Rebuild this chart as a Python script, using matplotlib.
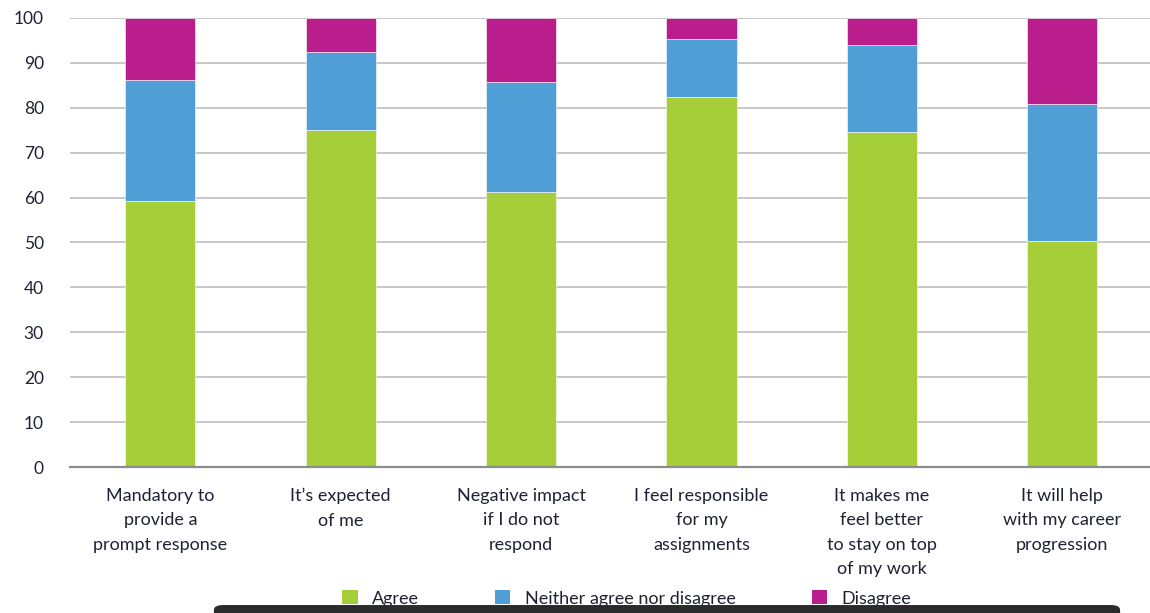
import matplotlib.pyplot as plt
import numpy as np
from matplotlib.patches import FancyBboxPatch, Patch

plt.rcParams['font.family'] = ['Lato', 'DejaVu Sans']

categories = ["Mandatory to\nprovide a\nprompt response",
              "It\u2019s expected\nof me",
              "Negative impact\nif I do not\nrespond",
              "I feel responsible\nfor my\nassignments",
              "It makes me\nfeel better\nto stay on top\nof my work",
              "It will help\nwith my career\nprogression"]
agree = [59.3, 75.1, 61.3, 82.4, 74.6, 50.4]
neither = [26.9, 17.3, 24.3, 12.9, 19.4, 30.5]
disagree = [13.8, 7.6, 14.4, 4.7, 6.0, 19.1]
series_names = ["Agree", "Neither agree nor disagree", "Disagree"]
colors = ["#a6ce39", "#4f9fd6", "#b91e8c"]
text_color = "#1f2233"

fig = plt.figure(figsize=(11.5, 6.13), dpi=100)
ax = fig.add_axes([0.061, 0.238, 0.941, 0.733])

x = np.arange(len(categories))
bottom = np.zeros(len(categories))
for vals, col in zip([agree, neither, disagree], colors):
    ax.bar(x, vals, width=0.39, bottom=bottom, color=col, zorder=3,
           edgecolor='white', linewidth=0.4)
    bottom += np.array(vals)

ax.set_xlim(-0.5, 5.5)
ax.set_ylim(0, 100)
ax.set_yticks(range(0, 101, 10))
ax.yaxis.grid(True, color='#c8c8c8', linewidth=1.4, zorder=0)
ax.set_axisbelow(True)
for s in ['left', 'right', 'top']:
    ax.spines[s].set_visible(False)
ax.spines['bottom'].set_color('#8c8c8c')
ax.spines['bottom'].set_linewidth(1.6)
ax.spines['bottom'].set_zorder(4)
ax.tick_params(axis='y', length=0, pad=19, labelsize=12.5, labelcolor=text_color)
ax.tick_params(axis='x', length=0, pad=15)
ax.set_xticks(x)
ax.set_xticklabels(categories, fontsize=13, color=text_color,
                   linespacing=1.65, va='top')

handles = [Patch(facecolor=c, edgecolor='none') for c in colors]
fig.legend(handles, series_names, loc='center', ncol=3,
           bbox_to_anchor=(0.545, 0.024), frameon=False, fontsize=13,
           labelcolor=text_color, handlelength=0.85, handleheight=0.85,
           handletextpad=0.8, columnspacing=4.2)

bar = FancyBboxPatch((0.186, -0.03), 0.788, 0.043,
                     boxstyle="round,pad=0,rounding_size=0.008",
                     transform=fig.transFigure, facecolor='#2b2b2b',
                     edgecolor='none', zorder=10)
fig.patches.append(bar)

fig.savefig("out.png", dpi=100)
